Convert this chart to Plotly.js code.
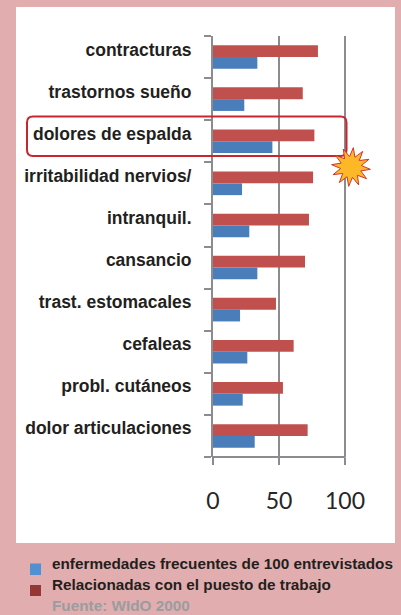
<!DOCTYPE html>
<html>
<head>
<meta charset="utf-8">
<script src="https://cdn.plot.ly/plotly-3.0.1.min.js"></script>
<style>html,body{margin:0;padding:0;background:#E2ADAE}</style>
</head>
<body>
<div id="chart" style="width:401px;height:615px"></div>
<script>
const categories = ["contracturas","trastornos sueño","dolores de espalda","irritabilidad nervios/","intranquil.","cansancio","trast. estomacales","cefaleas","probl. cutáneos","dolor articulaciones"];
const related = [79.5,68,76.8,75.8,72.7,69.7,47.7,61.1,53,71.7];
const frequent = [33.6,23.7,45,22,27.5,33.6,20.5,26,22.5,31.6];
const seriesNames = ["enfermedades frecuentes de 100 entrevistados","Relacionadas con el puesto de trabajo"];
const sourceNote = "Fuente: WIdO 2000";

const L=213,R=348,T=36,B=457;
const W=401,H=615;
const px=x=>(x-L)/(R-L), py=y=>(B-y)/(B-T);
const rectShape=(x0,y0,x1,y1,extra)=>Object.assign({type:'rect',xref:'paper',yref:'paper',x0:px(x0),x1:px(x1),y0:py(y1),y1:py(y0)},extra);

function roundRect(x0,y0,x1,y1,r){
  const X=px,Y=py;
  return `M${X(x0+r)},${Y(y0)} L${X(x1-r)},${Y(y0)} Q${X(x1)},${Y(y0)} ${X(x1)},${Y(y0+r)} L${X(x1)},${Y(y1-r)} Q${X(x1)},${Y(y1)} ${X(x1-r)},${Y(y1)} L${X(x0+r)},${Y(y1)} Q${X(x0)},${Y(y1)} ${X(x0)},${Y(y1-r)} L${X(x0)},${Y(y0+r)} Q${X(x0)},${Y(y0)} ${X(x0+r)},${Y(y0)} Z`;
}
function star(cx,cy,ro,ri,n){
  let d='';
  for(let i=0;i<2*n;i++){
    const a=Math.PI*i/n-Math.PI/2+0.12, r=i%2?ri:ro;
    d+=(i?'L':'M')+px(cx+r*Math.cos(a))+','+py(cy+r*Math.sin(a))+' ';
  }
  return d+'Z';
}

const traces=[
  {type:'bar',orientation:'h',name:seriesNames[1],y:categories,x:related,marker:{color:'#C0504D'},hoverinfo:'x+y'},
  {type:'bar',orientation:'h',name:seriesNames[0],y:categories,x:frequent,marker:{color:'#4A7EBB'},hoverinfo:'x+y'}
];
const axisGray='#8C8C90';
const legendFont={family:'"Liberation Sans",Arial,sans-serif',size:15.3,color:'#231F20',weight:700};
const layout={
  width:W,height:H,
  margin:{l:L,r:W-R,t:T,b:H-B,pad:0},
  paper_bgcolor:'#E2ADAE',plot_bgcolor:'rgba(0,0,0,0)',
  showlegend:false,
  barmode:'group',bargap:0.44,bargroupgap:0,
  xaxis:{range:[0,102.27],tickvals:[0,50,100],ticktext:['0','50','100'],showgrid:true,gridcolor:axisGray,gridwidth:2,
    showline:false,ticks:'',
    ticklabelstandoff:28,zeroline:false,
    minor:{tickmode:'array',tickvals:[0,50,100],ticks:'outside',ticklen:7,tickwidth:2,tickcolor:axisGray,showgrid:false},
    tickfont:{family:'Lato,sans-serif',size:23,color:'#262626'}},
  yaxis:{type:'category',categoryorder:'array',categoryarray:categories,range:[9.5,-0.5],
    tickmode:'array',tickvals:categories.map((c,i)=>i-0.18),ticktext:categories,
    ticks:'',showline:true,linecolor:axisGray,linewidth:2,showgrid:false,zeroline:false,
    ticklabelstandoff:16,
    minor:{tickmode:'array',tickvals:categories.map((c,i)=>i-0.5).concat([9.5]),ticks:'outside',ticklen:7,tickwidth:2,tickcolor:axisGray,showgrid:false},
    tickfont:{family:'"Liberation Sans",Arial,sans-serif',size:17.5,color:'#231F20',weight:700}},
  shapes:[
    rectShape(16,7,395,543,{fillcolor:'#FFFFFF',line:{width:0},layer:'below'}),
    {type:'line',xref:'paper',yref:'paper',x0:px(212),x1:px(345.5),y0:0,y1:0,line:{color:axisGray,width:2}},
    {type:'path',xref:'paper',yref:'paper',path:roundRect(27,116.5,346.5,156,6),line:{color:'#C8262E',width:2},fillcolor:'rgba(0,0,0,0)'},
    {type:'path',xref:'paper',yref:'paper',path:star(351,167,19.5,10.5,12),line:{color:'#D2352E',width:1},fillcolor:'#FDB827'},
    rectShape(30,563.5,41,575,{fillcolor:'#5090D3',line:{width:0}}),
    rectShape(30,585,41,596,{fillcolor:'#953735',line:{width:0}})
  ],
  annotations:[
    {xref:'paper',yref:'paper',x:px(50),y:py(563),xanchor:'left',yanchor:'middle',showarrow:false,text:seriesNames[0],font:legendFont},
    {xref:'paper',yref:'paper',x:px(50),y:py(584),xanchor:'left',yanchor:'middle',showarrow:false,text:seriesNames[1],font:legendFont},
    {xref:'paper',yref:'paper',x:px(50),y:py(605),xanchor:'left',yanchor:'middle',showarrow:false,text:sourceNote,font:Object.assign({},legendFont,{color:'#999DA0'})}
  ]
};
Plotly.newPlot('chart',traces,layout,{displayModeBar:false,staticPlot:true});
</script>
</body>
</html>
